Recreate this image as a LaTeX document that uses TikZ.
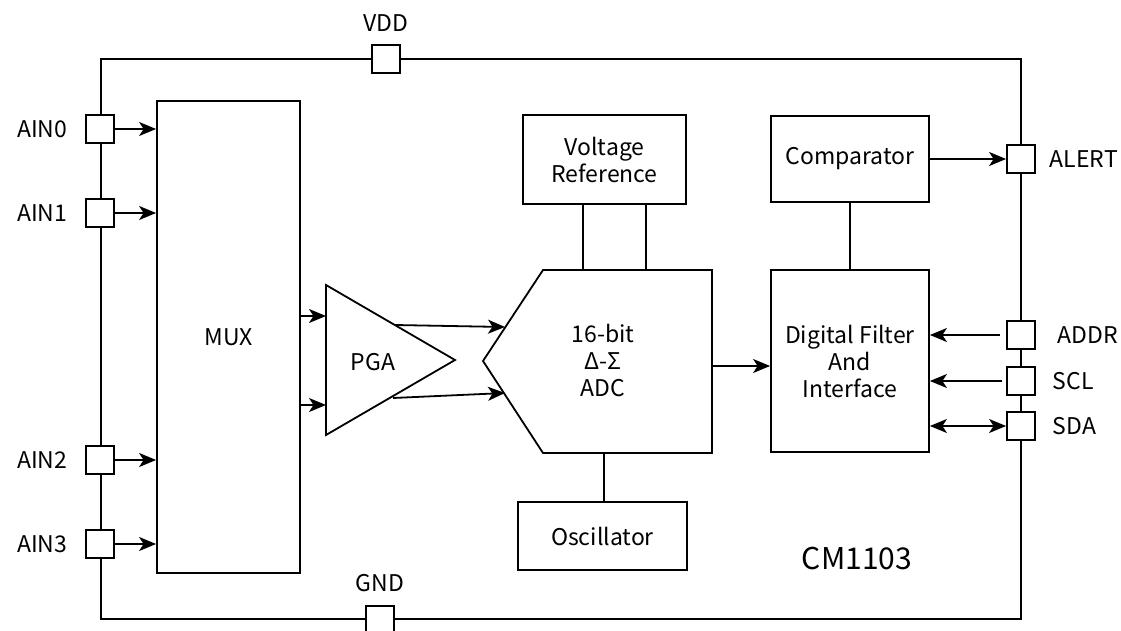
\documentclass[tikz,border=0pt]{standalone}
\usepackage{fontspec}
\setmainfont{Noto Sans CJK SC}
\usetikzlibrary{arrows.meta, positioning}

\begin{document}
\begin{tikzpicture}[x=1pt, y=-1pt, line width=1.8pt,
		>={Stealth[length=17pt, width=14pt, inset=4.5pt]},
		font=\fontsize{23}{27}\selectfont
	]

	\tikzset{
		block/.style={
				draw, rectangle, inner sep=0pt, align=center
			},
		pad/.style={
				draw, rectangle, fill=white, inner sep=0pt, minimum size=28pt
			},
		padlabel/.style={
				inner sep=0pt
			},
	}
	\useasboundingbox (0,0) rectangle (1121,631);

	% chip outline
	\draw (101,59) rectangle (1021,619);

	% blocks
	\node[block, minimum width=143pt, minimum height=472pt](mux) at (228.5,337){MUX};
	\node[block, minimum width=163pt, minimum height=89pt](vref) at (604.5,159.5){Voltage\\Reference};
	\node[block, minimum width=169pt, minimum height=68pt](osc) at (602.5,536){Oscillator};
	\node[block, minimum width=158pt, minimum height=86pt](comp) at (850,159){Comparator};
	\node[block, minimum width=158pt, minimum height=182pt](filt) at (850,361){Digital Filter\\And\\Interface};

	% PGA
	\coordinate (pgatop) at (326,285);
	\coordinate (pgatip) at (455,360);
	\coordinate (pgabot) at (326,435);
	\draw (pgatop)--(pgatip)--(pgabot)--cycle;
	\node[inner sep=0pt](pga) at (373,362){PGA};

	% ADC
	\coordinate (adctl) at (543,270);
	\coordinate (adctr) at (712,270);
	\coordinate (adcbr) at (712,453);
	\coordinate (adcbl) at (543,453);
	\coordinate (adctip) at (483,361);
	\draw (adctip)--(adctl)--(adctr)--(adcbr)--(adcbl)--cycle;
	\node[align=center, inner sep=0pt](adc) at (603,360){16-bit\\Δ-Σ\\ADC};

	% pads
	\node[pad](vdd) at (386,59){};
	\node[pad](gnd) at (380,620){};
	\node[pad](ain0) at (100,129){};
	\node[pad](ain1) at (100,213){};
	\node[pad](ain2) at (100,460){};
	\node[pad](ain3) at (100,544){};
	\node[pad](alert) at (1021,159){};
	\node[pad](addr) at (1021,335){};
	\node[pad](scl) at (1021,381){};
	\node[pad](sda) at (1021,426){};

	\node[padlabel](vddt) at (386,23){VDD};
	\node[padlabel](gndt) at (380,583){GND};
	\node[padlabel, left=17pt of ain0](ain0t){AIN0};
	\node[padlabel, left=17pt of ain1](ain1t){AIN1};
	\node[padlabel, left=17pt of ain2](ain2t){AIN2};
	\node[padlabel, left=17pt of ain3](ain3t){AIN3};
	\node[padlabel, right=13pt of alert](alertt){ALERT};
	\node[padlabel, right=21pt of addr](addrt){ADDR};
	\node[padlabel, right=16pt of scl](sclt){SCL};
	\node[padlabel, right=16pt of sda](sdat){SDA};

	\node[inner sep=0pt, font=\fontsize{30}{36}\selectfont](part) at (857,558){CM1103};

	% connections
	\coordinate (pgain1) at (326,316);
	\coordinate (pgain2) at (326,405);
	\coordinate (pgaout1) at (395,325);
	\coordinate (pgaout2) at (393,398);
	\coordinate (adcin1) at (505,327);
	\coordinate (adcin2) at (505,393);
	\coordinate (vr1) at (583,270);
	\coordinate (vr2) at (646,270);
	\coordinate (adcb) at (604,453);
	\coordinate (adcout) at (712,366);

	\draw[->] (ain0)--(ain0 -| mux.west);
	\draw[->] (ain1)--(ain1 -| mux.west);
	\draw[->] (ain2)--(ain2 -| mux.west);
	\draw[->] (ain3)--(ain3 -| mux.west);
	\draw[->] (pgain1 -| mux.east)--(pgain1);
	\draw[->] (pgain2 -| mux.east)--(pgain2);
	\draw[->] (pgaout1)--(adcin1);
	\draw[->] (pgaout2)--(adcin2);
	\draw (vr1 |- vref.south)--(vr1);
	\draw (vr2 |- vref.south)--(vr2);
	\draw (adcb)--(adcb |- osc.north);
	\draw[->] (adcout)--(adcout -| filt.west);
	\draw (comp.south)--(filt.north);
	\draw[->] (comp.east)--(alert.west);
	\draw[->, shorten <=6pt] (addr.west)--(addr -| filt.east);
	\draw[->, shorten <=4pt] (scl.west)--(scl -| filt.east);
	\draw[<->] (sda.west)--(sda -| filt.east);

\end{tikzpicture}
\end{document}
